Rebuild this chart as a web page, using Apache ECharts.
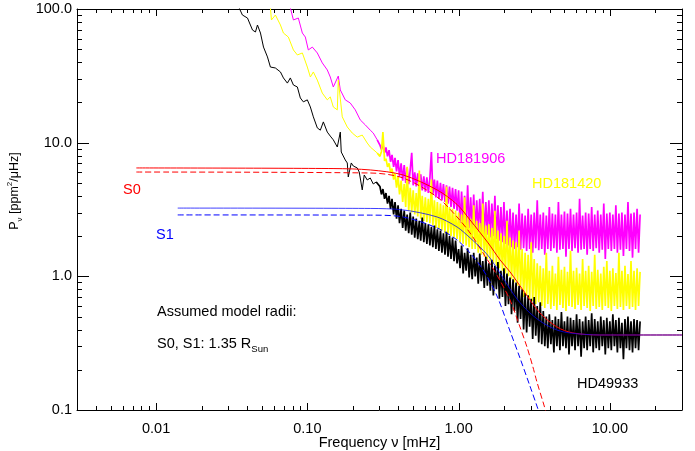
<!DOCTYPE html>
<html>
<head>
<meta charset="utf-8">
<script src="https://cdn.jsdelivr.net/npm/echarts@6/dist/echarts.min.js"></script>
<style>
html, body { margin: 0; padding: 0; background: #fff; }
#chart { width: 695px; height: 451px; }
</style>
</head>
<body>
<div id="chart"></div>
<script>
const FONT = 'Liberation Sans, Arial, Helvetica, sans-serif';

// tick positions
const xMajor = [0.01, 0.1, 1, 10];
const xMinor = [0.004, 0.005, 0.006, 0.007, 0.008, 0.009,
  0.02, 0.03, 0.04, 0.05, 0.06, 0.07, 0.08, 0.09,
  0.2, 0.3, 0.4, 0.5, 0.6, 0.7, 0.8, 0.9,
  2, 3, 4, 5, 6, 7, 8, 9, 20];
const yMajor = [0.1, 1, 10, 100];
const yMinor = [0.2, 0.3, 0.4, 0.5, 0.6, 0.7, 0.8, 0.9,
  2, 3, 4, 5, 6, 7, 8, 9,
  20, 30, 40, 50, 60, 70, 80, 90];

// low frequency part of the spectra [mHz, ppm^2/uHz]
const blackLow = [[0.0350,105],[0.0372,90.2],[0.0402,85.6],[0.0434,69.6],[0.0454,67.3],[0.0468,75.9],[0.0490,66.1],
  [0.0513,51.9],[0.0545,43.8],[0.0570,36.8],[0.0615,36.2],[0.0664,33.8],[0.0695,30.5],[0.0738,27.9],[0.0772,30.5],
  [0.0809,27.0],[0.0859,26.1],[0.0899,21.6],[0.0941,20.2],[0.1000,20.9],[0.1047,18.5],[0.1096,15.6],[0.1164,12.9],
  [0.1219,12.4],[0.1276,14.3],[0.1355,12.0],[0.1418,11.2],[0.1485,10.5],[0.1578,9.28],[0.1652,12.0],[0.1676,8.51],
  [0.1782,7.42],[0.1837,7.05],[0.1865,5.54],[0.1952,7.05],[0.2013,6.69],[0.2138,6.47],[0.2204,6.03],[0.2307,4.43],
  [0.2378,5.73],[0.2489,5.26],[0.2606,5.44],[0.2728,4.91],[0.2855,5.08]];
const yellowLow = [[0.0570,102],[0.0579,82.8],[0.0615,90.2],[0.0664,75.9],[0.0695,66.1],[0.0749,61.7],[0.0809,49.4],
  [0.0859,45.3],[0.0927,46.9],[0.1000,36.8],[0.1047,31.0],[0.1096,33.8],[0.1164,29.4],[0.1256,23.5],[0.1355,20.9],
  [0.1418,22.0],[0.1485,18.5],[0.1578,17.6],[0.1602,29.4],[0.1702,15.6],[0.1837,13.1],[0.1982,11.8],[0.2138,11.0],
  [0.2307,11.4],[0.2489,9.94],[0.2606,9.28],[0.2897,8.37]];
const magentaLow = [[0.0772,102],[0.0809,82.8],[0.0872,85.6],[0.0927,66.1],[0.0970,61.7],[0.1015,49.4],[0.1079,51.9],
  [0.1164,46.9],[0.1256,39.5],[0.1355,35.0],[0.1418,31.0],[0.1485,26.1],[0.1602,31.5],[0.1652,24.8],[0.1782,20.9],
  [0.1922,19.8],[0.2074,17.6],[0.2238,14.8],[0.2414,13.6],[0.2606,12.4],[0.2728,11.8],[0.2897,10.5]];

// noisy part: shared frequencies, one power list per star
const noiseFreq = [0.302,0.309,0.316,0.324,0.331,0.339,0.347,0.355,0.363,0.372,0.380,0.389,0.398,0.407,0.417,
  0.427,0.437,0.447,0.457,0.468,0.479,0.490,0.501,0.513,0.525,0.537,0.550,0.562,0.575,0.589,0.603,0.617,0.631,
  0.646,0.661,0.676,0.692,0.708,0.724,0.741,0.759,0.776,0.794,0.813,0.832,0.851,0.871,0.891,0.912,0.933,0.955,0.977,
  1.000,1.023,1.047,1.072,1.096,1.122,1.148,1.175,1.202,1.230,1.259,1.288,1.318,1.349,1.380,1.413,1.445,1.479,
  1.514,1.549,1.585,1.622,1.660,1.698,1.738,1.778,1.820,1.862,1.905,1.950,1.995,2.042,2.089,2.138,2.188,2.239,
  2.291,2.344,2.399,2.455,2.512,2.570,2.630,2.692,2.754,2.818,2.884,2.951,3.020,3.090,3.162,3.236,3.311,3.388,
  3.467,3.548,3.631,3.715,3.802,3.890,3.981,4.074,4.169,4.266,4.365,4.467,4.571,4.677,4.786,4.898,5.012,5.129,
  5.248,5.370,5.495,5.623,5.754,5.888,6.026,6.166,6.310,6.457,6.607,6.761,6.918,7.079,7.244,7.413,7.586,7.762,
  7.943,8.128,8.318,8.511,8.710,8.913,9.120,9.333,9.550,9.772,
  10.00,10.23,10.47,10.72,10.96,11.22,11.48,11.75,12.02,12.30,12.59,12.88,13.18,13.49,13.80,14.13,14.45,14.79,
  15.14,15.49,15.85];
const blackNoise = [4.7,4.1,4.5,3.8,4.2,3.5, 4.0,3.2,3.8,2.9,3.6, 2.7,3.4,2.5,3.2,2.3, 3.1,2.2,2.9,2.1,3.0,
  2.05,2.8,1.95,2.7,1.9, 2.6,1.85,2.75,1.8,2.5, 1.75,2.45,1.7,2.35,1.65, 2.4,1.6,2.25,1.55,2.2,
  1.5,2.1,1.45,2.15,1.4, 2.0,1.35,1.95,1.3,1.85, 1.25,
  1.6,1.15,1.7,1.05,1.5,1.1,1.62,0.98,1.45,
  0.95,1.5,1.0,1.38,0.88,1.48,0.92,1.3,0.82,1.4,0.85,1.25,
  0.78,1.33,0.72,1.2,0.8,1.28,0.68,1.1,0.7,1.15,0.6,1.05,0.62,0.98,
  0.52,0.95,0.55,0.9,0.45,0.85,0.48,0.8,0.4,
  0.75,0.38,0.72,0.42,0.68,0.34,0.7,0.36,0.6,0.32,0.64,
  0.31,0.55,0.3,0.5,0.29,0.52,0.31,0.47,0.27,0.5, 0.3,0.48,0.28,0.54,0.3,0.46,0.29,0.5,0.26,0.49,
  0.3,0.47,0.28,0.52,0.3,0.48,0.25,0.46,0.29,0.5, 0.28,0.47,0.3,0.53,0.27,0.48,0.29,0.46,0.28,0.5,
  0.3,0.47,0.26,0.49,0.29,0.46,0.28,0.52,0.3,0.47, 0.27,0.49,0.29,0.45,0.24,0.48,0.29,0.5,0.28,0.46,
  0.27,0.48,0.29,0.47,0.28,0.46];
const yellowNoise = [7.9,8.6,12,7.3,7.6,6.6, 7.0,6.0,6.4,5.3,5.9, 4.6,5.6,4.1,5.2,3.6, 4.9,3.3,6.6,3.1,4.6,
  3.0,4.4,2.9,4.2,2.8, 6.2,2.7,4.0,2.6,3.9, 2.55,3.8,2.5,5.3,2.4, 3.7,2.3,3.6,2.25,3.5,
  2.2,3.4,2.1,4.7,2.05, 3.3,2.0,3.2,1.95,3.1, 1.9,
  3.0,1.8,2.9,1.75,3.9,1.7,2.8,1.65,2.7,1.6, 3.4,1.6,2.6,1.5,2.5,1.45,3.5,1.4,2.4,1.35,
  2.45,1.3,2.3,1.25,3.1,1.2,2.2,1.15,2.1,1.1, 2.0,1.05,2.6,1.0,1.95,0.95,1.85,0.9,1.8,0.85,
  2.2,0.8,1.6,0.7,1.5,0.72,1.45,0.68,1.8,0.65, 1.35,0.62,1.25,0.64,1.2,
  0.6,1.15,0.58,1.5,0.62,1.1,0.57,1.2,0.6,1.05, 0.56,1.4,0.61,1.12,0.58,1.18,0.55,1.08,0.6,1.55,
  0.59,1.1,0.57,1.16,0.61,1.05,0.56,1.35,0.6,1.1, 0.58,1.2,0.55,1.08,0.6,1.45,0.57,1.12,0.59,1.05,
  0.56,1.18,0.6,1.3,0.58,1.1,0.55,1.15,0.6,1.06, 0.57,1.5,0.59,1.1,0.56,1.2,0.6,1.04,0.57,1.3,
  0.59,1.1,0.56,1.15,0.6,1.08];
const magentaNoise = [9.6,8.9,9.8,8.4,9.2,7.9, 8.8,7.2,8.1,6.6,7.7, 6.1,7.4,5.6,7.0,5.2, 6.8,5.0,6.5,4.9,6.3,
  8.4,4.8,6.0,4.7,5.9, 4.5,5.8,4.4,5.6,4.3, 5.5,4.2,5.4,8.5,4.1, 5.3,3.9,5.2,3.8,5.0,
  3.7,4.9,3.6,4.8,3.5, 4.7,3.3,4.6,3.2,4.5, 3.1,
  4.4,2.5,4.3,2.4,4.0,2.35,4.8,2.3,3.9,2.25, 4.1,2.2,3.7,2.15,3.8,2.1,4.3,2.0,3.6,2.05,
  3.7,1.95,3.5,2.0,4.0,1.9,3.4,1.85,3.3,1.8, 3.6,1.75,3.1,1.7,3.2,1.65,
  3.0,1.6,2.9,1.65,3.5,1.58,2.95,1.62,2.85,1.55, 3.2,1.6,2.9,1.5,3.0,1.62,3.7,1.57,2.9,1.6,
  3.0,1.45,2.85,1.6,3.3,1.55,2.95,1.62,2.9,1.5, 3.6,1.58,2.9,1.6,3.05,1.4,2.95,1.6,3.2,1.55,
  2.9,1.62,3.0,1.5,3.8,1.58,2.85,1.6,3.0,1.45, 2.95,1.6,3.3,1.55,2.9,1.62,3.1,1.5,2.9,1.58,
  3.5,1.35,2.95,1.6,3.0,1.55,2.9,1.6,3.4,1.5, 2.95,1.58,3.0,1.42,2.9,1.6,3.6,1.55,2.95,1.38,
  3.0,1.6,3.2,1.5,2.9];

// granulation models, with background (solid) and without (dashed)
const s0Total = [[0.0074,6.47],[0.15,6.40],[0.2606,6.25],[0.430,5.73],[0.721,4.43],[0.977,3.45],[1.191,2.64],
  [1.566,1.78],[1.878,1.33],[2.187,1.08],[2.665,0.79],[3.451,0.532],[4.469,0.418],[5.70,0.377],[8.59,0.364],[30,0.364]];
const s0Model = [[0.0074,6.03],[0.2606,5.93],[0.430,5.44],[0.721,3.92],[0.977,2.78],[1.191,2.11],[1.451,1.495],
  [1.795,1.02],[2.187,0.665],[2.546,0.418],[2.832,0.296],[3.10,0.21],[3.297,0.162],[3.667,0.109],[3.78,0.097],[4.0,0.08]];
const s1Total = [[0.0139,3.24],[0.2606,3.22],[0.430,3.14],[0.721,2.78],[0.977,2.34],[1.191,1.94],[1.451,1.57],
  [1.614,1.37],[1.967,0.972],[2.433,0.677],[2.964,0.532],[3.612,0.448],[4.469,0.397],[5.445,0.377],[8.59,0.364],[30,0.364]];
const s1Model = [[0.0139,2.88],[0.2606,2.87],[0.430,2.78],[0.721,2.30],[0.977,1.87],[1.191,1.495],[1.451,1.12],
  [1.795,0.713],[2.187,0.390],[2.546,0.245],[2.964,0.151],[3.297,0.107],[3.45,0.092],[3.6,0.08]];

const zip = (freq, pow) => freq.map((f, i) => [f, pow[i]]);
const noisy = (low, pow) => [low[low.length - 1]].concat(zip(noiseFreq, pow));

const chart = echarts.init(document.getElementById('chart'));

const labelFont = { color: '#000', fontFamily: FONT, fontSize: 14.5 };
const X_MIN = 0.003, X_MAX = 30, Y_MIN = 0.1, Y_MAX = 100;

function logAx(isX, pos, withLabels) {
  const ax = {
    type: 'log', logBase: 10, position: pos,
    min: isX ? X_MIN : Y_MIN, max: isX ? X_MAX : Y_MAX,
    axisLine: { show: true, onZero: false, lineStyle: { color: '#000', width: 1 } },
    axisTick: { show: false },
    axisLabel: { show: false },
    splitLine: { show: false }
  };
  if (withLabels) {
    ax.axisLabel = Object.assign({
      show: true,
      customValues: isX ? xMajor : yMajor,
      margin: isX ? 11 : 5,
      formatter: v => Number(v).toFixed(isX ? 2 : 1)
    }, labelFont);
  }
  return ax;
}

const xMain = logAx(true, 'bottom', true);
xMain.name = 'Frequency \u03bd [mHz]';
xMain.nameLocation = 'middle';
xMain.nameGap = 25;
xMain.nameMoveOverlap = false;
xMain.nameTextStyle = labelFont;

// tick marks on all four sides, placed through the axes
const xTicks = xMajor.map(v => [v, 1, 7]).concat(xMinor.map(v => [v, 1, 4]));
const yTicks = yMajor.map(v => [1, v, 12]).concat(yMinor.map(v => [1, v, 5]));
const crisp = v => Math.round(v) + 0.5;
const tickStyle = { stroke: '#000', lineWidth: 1 };
function tickSeries(data, isX) {
  return {
    type: 'custom', data: data, xAxisIndex: 0, yAxisIndex: 0, silent: true, animation: false,
    encode: { x: 0, y: 1 }, clip: false, z: 5,
    renderItem: (params, api) => {
      const len = api.value(2);
      if (isX) {
        const b = api.coord([api.value(0), Y_MIN]);
        const t = api.coord([api.value(0), Y_MAX]);
        const x = crisp(b[0]);
        return { type: 'group', children: [
          { type: 'line', shape: { x1: x, y1: b[1], x2: x, y2: b[1] - len }, style: tickStyle },
          { type: 'line', shape: { x1: x, y1: t[1], x2: x, y2: t[1] + len }, style: tickStyle }
        ] };
      }
      const l = api.coord([X_MIN, api.value(1)]);
      const r = api.coord([X_MAX, api.value(1)]);
      const y = crisp(l[1]);
      return { type: 'group', children: [
        { type: 'line', shape: { x1: l[0], y1: y, x2: l[0] + len, y2: y }, style: tickStyle },
        { type: 'line', shape: { x1: r[0], y1: y, x2: r[0] - len, y2: y }, style: tickStyle }
      ] };
    }
  };
}

const line = (data, color, extra) => Object.assign({
  type: 'line', data: data, showSymbol: false, symbol: 'none', animation: false,
  lineStyle: { color: color, width: 1 }, itemStyle: { color: color },
  xAxisIndex: 0, yAxisIndex: 0
}, extra || {});
const thick = color => ({ lineStyle: { color: color, width: 1.7 } });

chart.setOption({
  animation: false,
  backgroundColor: '#fff',
  grid: { left: 77, right: 13, top: 9, bottom: 41, outerBoundsMode: 'none', containLabel: false },
  xAxis: [xMain, logAx(true, 'top', false)],
  yAxis: [logAx(false, 'left', true), logAx(false, 'right', false)],
  series: [
    line(magentaLow, '#ff00ff'),
    line(noisy(magentaLow, magentaNoise), '#ff00ff', thick('#ff00ff')),
    line(yellowLow, '#ffff00'),
    line(noisy(yellowLow, yellowNoise), '#ffff00', thick('#ffff00')),
    line(blackLow, '#000000'),
    line(noisy(blackLow, blackNoise), '#000000', thick('#000000')),
    line(s0Total, '#ff0000', { smooth: 0.3 }),
    line(s0Model, '#ff0000', { smooth: 0.3, lineStyle: { color: '#ff0000', width: 1, type: [6, 3] } }),
    line(s1Total, '#0000ff', { smooth: 0.3, lineStyle: { color: '#0000ff', width: 1, opacity: 0.75 } }),
    line(s1Model, '#0000ff', { smooth: 0.3, lineStyle: { color: '#0000ff', width: 1, type: [6, 3] } }),
    tickSeries(xTicks, true),
    tickSeries(yTicks, false)
  ],
  graphic: [
    { type: 'text', x: 123, y: 190, style: { text: 'S0', fill: '#ff0000', fontFamily: FONT, fontSize: 14.5, verticalAlign: 'middle' } },
    { type: 'text', x: 156, y: 235, style: { text: 'S1', fill: '#0000ff', fontFamily: FONT, fontSize: 14.5, verticalAlign: 'middle' } },
    { type: 'text', x: 436, y: 158.5, style: { text: 'HD181906', fill: '#ff00ff', fontFamily: FONT, fontSize: 14.5, verticalAlign: 'middle' } },
    { type: 'text', x: 532, y: 184, style: { text: 'HD181420', fill: '#ffff00', fontFamily: FONT, fontSize: 14.5, verticalAlign: 'middle' } },
    { type: 'text', x: 577, y: 384, style: { text: 'HD49933', fill: '#000', fontFamily: FONT, fontSize: 14.5, verticalAlign: 'middle' } },
    { type: 'text', x: 157, y: 312, style: { text: 'Assumed model radii:', fill: '#000', fontFamily: FONT, fontSize: 14.5, verticalAlign: 'middle' } },
    { type: 'text', x: 157, y: 344, style: {
        text: '{a|S0, S1: 1.35 R}{s|Sun}', fill: '#000', fontFamily: FONT, verticalAlign: 'middle',
        rich: {
          a: { fontFamily: FONT, fontSize: 14.5, lineHeight: 20, verticalAlign: 'middle', fill: '#000' },
          s: { fontFamily: FONT, fontSize: 9.5, lineHeight: 10, verticalAlign: 'bottom', fill: '#000' }
        } } },
    { type: 'text', x: 15, y: 191, rotation: Math.PI / 2, style: {
        text: '{a|P}{s|\u03bd}{a| [ppm}{p|2}{a|/\u03bcHz]}', fill: '#000', fontFamily: FONT,
        align: 'center', verticalAlign: 'middle',
        rich: {
          a: { fontFamily: FONT, fontSize: 12.5, lineHeight: 18, verticalAlign: 'middle', fill: '#000' },
          s: { fontFamily: FONT, fontSize: 8, lineHeight: 8, verticalAlign: 'bottom', fill: '#000' },
          p: { fontFamily: FONT, fontSize: 8, lineHeight: 8, verticalAlign: 'top', fill: '#000' }
        } } }
  ]
});
</script>
</body>
</html>
